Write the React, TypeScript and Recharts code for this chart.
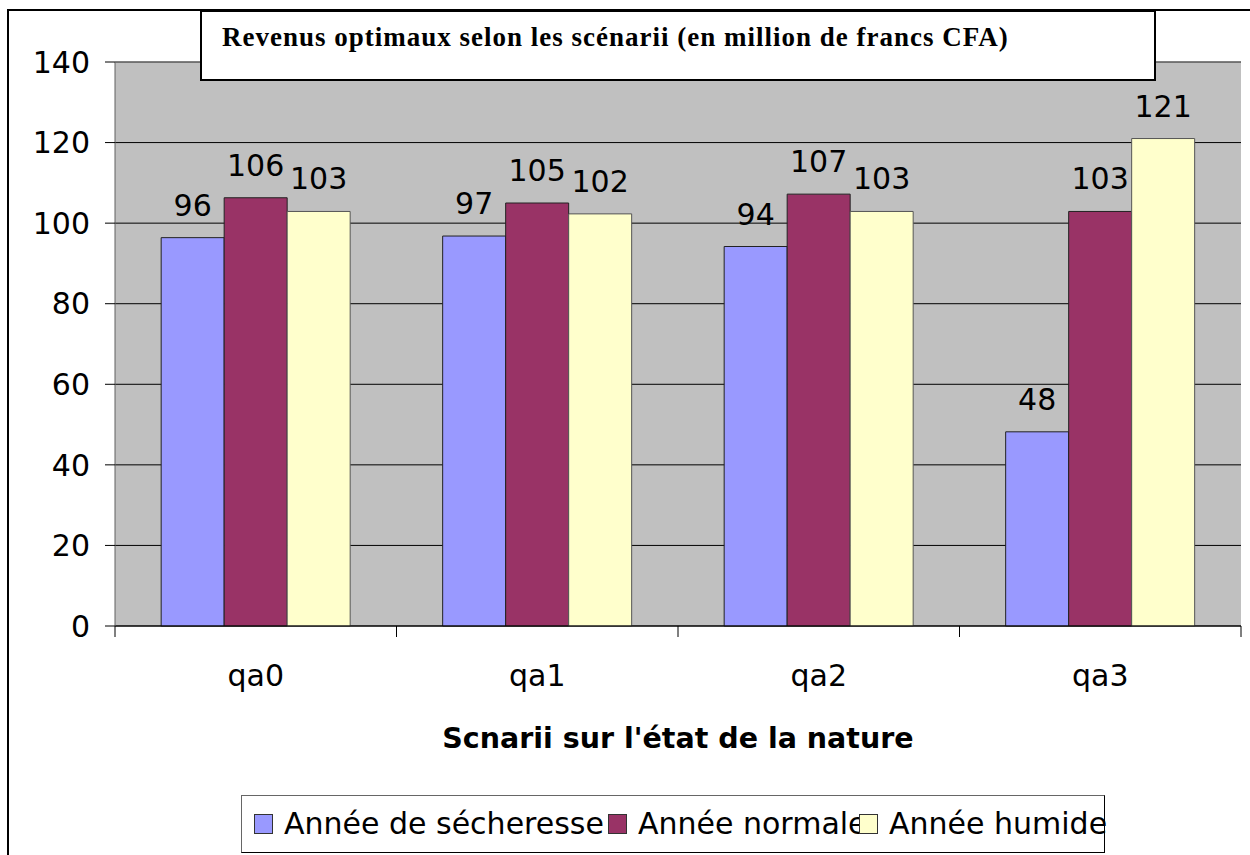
import {
  BarChart,
  Bar,
  XAxis,
  YAxis,
  CartesianGrid,
  LabelList,
  Legend,
  ReferenceLine,
  Text,
} from 'recharts';

// Scenario categories and revenue values (million FCFA)
const scenarios = ['qa0', 'qa1', 'qa2', 'qa3'];
const secheresse = [96.4, 96.8, 94.2, 48.2];
const normale = [106.3, 105.0, 107.2, 102.9];
const humide = [102.9, 102.3, 102.9, 121.0];
const yTicks = [0, 20, 40, 60, 80, 100, 120, 140];

const seriesNames = ['Année de sécheresse', 'Année normale', 'Année humide'];
const seriesColors = ['#9999FF', '#993366', '#FFFFCC'];

const data = scenarios.map((name, i) => ({
  name,
  secheresse: secheresse[i],
  normale: normale[i],
  humide: humide[i],
}));

const FONT = '"DejaVu Sans", sans-serif';
const labelStyle = { fontFamily: FONT, fontSize: 30, fill: '#000' };
const CAT_MARGIN = 39;

// category label + Excel-style tick marks on the borders between categories
const CategoryTick = (props: any) => {
  const { x, y, payload, index, visibleTicksCount, width } = props;
  const half = payload.offset || width / visibleTicksCount / 2;
  const base = y - CAT_MARGIN;
  const last = index === visibleTicksCount - 1;
  return (
    <g>
      <line x1={x - half} x2={x - half} y1={base} y2={base + 11} stroke="#000" />
      {last && <line x1={x + half} x2={x + half} y1={base} y2={base + 11} stroke="#000" />}
      <Text x={x} y={y} textAnchor="middle" verticalAnchor="start" {...labelStyle}>
        {payload.value}
      </Text>
    </g>
  );
};

// legend slots are fixed width, like the original, so texts overlap a bit
const slotWidths = [354, 251, 240];

// keep the series order (recharts would sort the payload by name)
const LegendBox = () => (
  <div
    style={{
      width: '100%',
      height: 58,
      boxSizing: 'border-box',
      border: '1px solid #000',
      borderTopColor: '#666',
      borderLeftColor: '#666',
      background: '#fff',
      display: 'flex',
      alignItems: 'center',
      paddingLeft: 12,
    }}
  >
    {seriesNames.map((name, i) => (
      <div
        key={name}
        style={{
          flex: 'none',
          width: slotWidths[i],
          display: 'flex',
          alignItems: 'center',
          whiteSpace: 'nowrap',
        }}
      >
        <span
          style={{
            display: 'inline-block',
            width: 17,
            height: 18,
            background: seriesColors[i],
            border: '1px solid #333',
            marginRight: 11,
            flex: 'none',
          }}
        />
        <span style={{ fontFamily: FONT, fontSize: 30, lineHeight: 1, color: '#000' }}>
          {name}
        </span>
      </div>
    ))}
  </div>
);

const App = () => {
  return (
    <div
      style={{
        position: 'absolute',
        left: 0,
        top: 0,
        width: 1250,
        height: 855,
        background: '#fff',
        overflow: 'hidden',
      }}
    >
      {/* outer chart frame */}
      <div
        style={{
          position: 'absolute',
          left: 7,
          top: 9,
          width: 1300,
          height: 900,
          borderLeft: '2px solid #000',
          borderTop: '2px solid #000',
        }}
      />

      <div style={{ position: 'absolute', left: 0, top: 0 }}>
        <BarChart
          width={1250}
          height={855}
          data={data}
          margin={{ top: 62, right: 9, bottom: 31, left: 0 }}
          barCategoryGap="16.4%"
          barGap={0}
        >
          <CartesianGrid
            vertical={false}
            stroke="#000"
            fill="#C0C0C0"
            fillOpacity={1}
          />
          <XAxis
            dataKey="name"
            height={140}
            axisLine={{ stroke: '#000' }}
            tickLine={false}
            tickSize={0}
            tickMargin={CAT_MARGIN}
            tick={<CategoryTick />}
            interval={0}
            label={{
              value: "Scnarii sur l'état de la nature",
              position: 'insideBottom',
              offset: 18,
              style: { fontFamily: FONT, fontSize: 28.5, fontWeight: 'bold', fill: '#000' },
            }}
          />
          <YAxis
            domain={[0, 140]}
            ticks={yTicks}
            width={115}
            axisLine={{ stroke: '#606060' }}
            tickLine={{ stroke: '#000' }}
            tickSize={10}
            tickMargin={15}
            tick={labelStyle}
            interval={0}
          />
          <YAxis
            yAxisId="right"
            orientation="right"
            domain={[0, 140]}
            width={0}
            tick={false}
            tickLine={false}
            axisLine={{ stroke: '#808080' }}
          />
          <ReferenceLine y={140} stroke="#808080" />
          <Legend
            layout="vertical"
            align="center"
            verticalAlign="bottom"
            wrapperStyle={{ left: 241, top: 795, width: 864, height: 58 }}
            content={<LegendBox />}
          />
          <Bar
            dataKey="secheresse"
            name={seriesNames[0]}
            fill={seriesColors[0]}
            stroke="#222"
            strokeWidth={1}
            isAnimationActive={false}
          >
            <LabelList dataKey="secheresse" position="top" offset={22} formatter={(v: any) => Math.round(v)} style={labelStyle} />
          </Bar>
          <Bar
            dataKey="normale"
            name={seriesNames[1]}
            fill={seriesColors[1]}
            stroke="#222"
            strokeWidth={1}
            isAnimationActive={false}
          >
            <LabelList dataKey="normale" position="top" offset={22} formatter={(v: any) => Math.round(v)} style={labelStyle} />
          </Bar>
          <Bar
            dataKey="humide"
            name={seriesNames[2]}
            fill={seriesColors[2]}
            stroke="#555"
            strokeWidth={1}
            isAnimationActive={false}
          >
            <LabelList dataKey="humide" position="top" offset={22} formatter={(v: any) => Math.round(v)} style={labelStyle} />
          </Bar>
        </BarChart>
      </div>

      {/* title box sits over the plot area, as in the original */}
      <div
        style={{
          position: 'absolute',
          left: 200,
          top: 10,
          width: 956,
          height: 71,
          boxSizing: 'border-box',
          border: '2px solid #000',
          background: '#fff',
          paddingLeft: 20,
          paddingTop: 12,
          fontFamily: '"Liberation Serif", "Times New Roman", serif',
          fontWeight: 'bold',
          fontSize: 27,
          letterSpacing: 1,
          lineHeight: 1,
          whiteSpace: 'nowrap',
          color: '#000',
        }}
      >
        Revenus optimaux selon les scénarii (en million de francs CFA)
      </div>
    </div>
  );
};

export default App;
